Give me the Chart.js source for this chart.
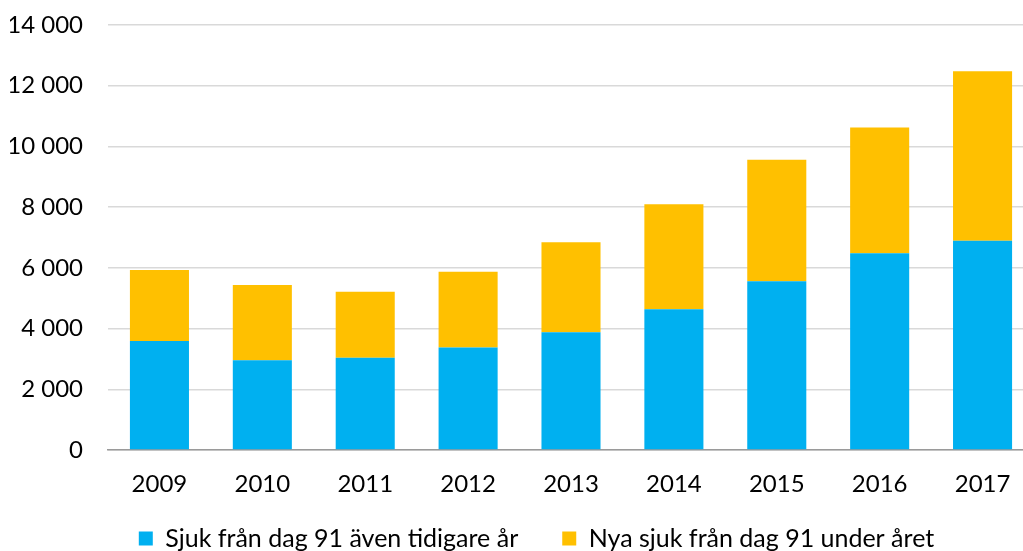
<!DOCTYPE html>
<html>
<head>
<meta charset="utf-8">
<script src="https://cdn.jsdelivr.net/npm/chart.js@4"></script>
<style>
  html, body { margin: 0; padding: 0; background: #fff; }
  #wrap { width: 1023px; height: 551px; }
</style>
</head>
<body>
<div id="wrap"><canvas id="graphique"></canvas></div>
<script>
// Données
const annees = ["2009", "2010", "2011", "2012", "2013", "2014", "2015", "2016", "2017"];
const sjukTidigare = [3590, 2955, 3040, 3380, 3880, 4635, 5560, 6480, 6895];
const nyaSjuk = [2340, 2480, 2175, 2495, 2965, 3460, 4005, 4140, 5585];
const etiquettes = ["Sjuk från dag 91 även tidigare år", "Nya sjuk från dag 91 under året"];

const police = "Lato, 'Liberation Sans', sans-serif";

// Légende : hauteur réduite et léger décalage
const legendeCompacte = {
    id: "legendeCompacte",
    beforeInit(chart) {
        const legende = chart.legend;
        if (!legende) return;
        const fit = legende.fit;
        legende.fit = function () {
            fit.call(this);
            this.height = 52;
        };
        const draw = legende.draw;
        legende.draw = function () {
            const { top, left, right } = this;
            this.top -= 17;
            this.left += 20;
            this.right += 20;
            draw.call(this);
            this.top = top;
            this.left = left;
            this.right = right;
        };
    },
    // La zone du graphique : haut à 25 px, bord droit coupé par l'image
    afterLayout(chart) {
        const zone = chart.chartArea;
        const x = chart.scales.x;
        const y = chart.scales.y;
        zone.top = 25;
        zone.right = 1034;
        zone.width = zone.right - zone.left;
        zone.height = zone.bottom - zone.top;
        x.right = 1034;
        x.width = x.right - x.left;
        x.configure();
        y.top = 25;
        y.height = y.bottom - y.top;
        y.configure();
    }
};

const data = {
    labels: annees,
    datasets: [
        {
            label: etiquettes[0],
            data: sjukTidigare,
            backgroundColor: "#00B0F0",
        },
        {
            label: etiquettes[1],
            data: nyaSjuk,
            backgroundColor: "#FFC000",
        }
    ]
};

const config = {
    type: "bar",
    data: data,
    plugins: [legendeCompacte],
    options: {
        responsive: true,
        maintainAspectRatio: false,
        animation: false,
        datasets: {
            bar: { barPercentage: 0.574, categoryPercentage: 1 }
        },
        layout: { padding: { left: 10, right: 0, top: 0, bottom: 0 } },
        plugins: {
            legend: {
                position: "bottom",
                labels: {
                    font: { family: police, size: 25 },
                    color: "#000",
                    boxWidth: 14,
                    boxHeight: 14,
                    padding: 44
                }
            },
            tooltip: { enabled: false }
        },
        scales: {
            x: {
                stacked: true,
                grid: { display: false, drawTicks: false },
                border: { color: "#9a9a9a", width: 1.5 },
                ticks: {
                    font: { family: police, size: 24 },
                    color: "#000",
                    padding: 20
                },
                afterFit: axe => { axe.height = 49; }
            },
            y: {
                stacked: true,
                min: 0,
                max: 14000,
                grid: { color: "#d9d9d9", lineWidth: 1.5, drawTicks: false },
                border: { display: false },
                ticks: {
                    stepSize: 2000,
                    font: { family: police, size: 24 },
                    color: "#000",
                    padding: 25,
                    callback: v => v.toString().replace(/\B(?=(\d{3})+(?!\d))/g, " ")
                },
                afterFit: axe => { axe.width = 98; }
            }
        }
    }
};

new Chart(document.querySelector("#graphique"), config);
</script>
</body>
</html>
